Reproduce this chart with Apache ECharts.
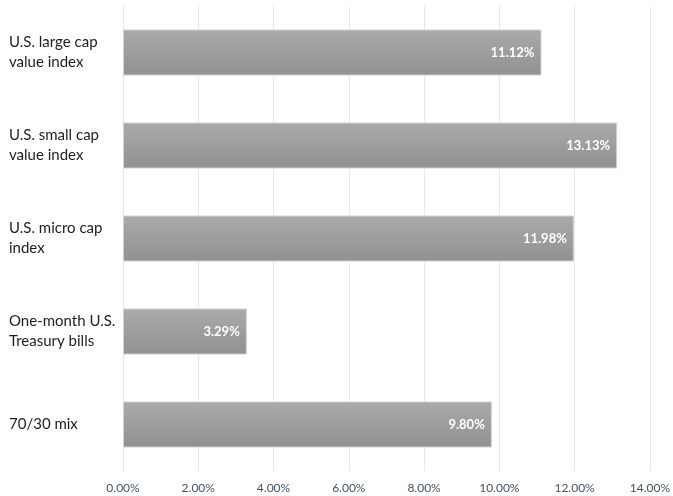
<!DOCTYPE html>
<html><head><meta charset="utf-8">
<script src="https://cdn.jsdelivr.net/npm/echarts@6/dist/echarts.min.js"></script>
<style>html,body{margin:0;padding:0;background:#fff}#c{width:673px;height:496px}</style>
</head><body><div id="c"></div>
<script>
const categories = ["U.S. large cap\nvalue index", "U.S. small cap\nvalue index", "U.S. micro cap\nindex", "One-month U.S.\nTreasury bills", "70/30 mix"];
const values = [11.12, 13.13, 11.98, 3.29, 9.80];
const xMin = 0, xMax = 14, xStep = 2;

const chart = echarts.init(document.getElementById('c'), null, {renderer: 'canvas'});
chart.setOption({
  animation: false,
  grid: {left: 123, right: 18, top: 6, bottom: 25, containLabel: false},
  xAxis: {
    type: 'value', min: xMin, max: xMax, interval: xStep,
    axisLine: {show: false}, axisTick: {show: false},
    splitLine: {show: true, lineStyle: {color: '#e8e8e8', width: 1}},
    axisLabel: {formatter: v => v.toFixed(2) + '%', color: '#44546a', fontFamily: 'Lato', fontSize: 12, margin: 11}
  },
  yAxis: {
    type: 'category', data: categories, inverse: true,
    axisLine: {show: false}, axisTick: {show: false},
    axisLabel: {align: 'left', margin: 114, color: '#1e1e1e', fontFamily: 'Lato', fontSize: 15, lineHeight: 20}
  },
  series: [{
    type: 'bar', data: values, barWidth: 46,
    itemStyle: {
      color: new echarts.graphic.LinearGradient(0, 0, 0, 1, [{offset: 0, color: '#aaaaaa'}, {offset: 1, color: '#919191'}]),
      borderColor: '#d0d0d0', borderWidth: 1
    },
    label: {show: true, position: 'insideRight', distance: 7, color: '#fff', fontWeight: 'bold', fontFamily: 'Lato', fontSize: 13,
      formatter: p => p.value.toFixed(2) + '%'}
  }]
});
</script></body></html>
